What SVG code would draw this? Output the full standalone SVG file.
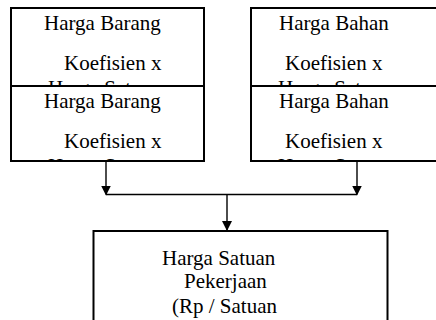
<svg xmlns="http://www.w3.org/2000/svg" width="436" height="320" viewBox="0 0 436 320">
  <style>
    .box { fill: #fff; stroke: #000; stroke-width: 2; }
    .t { font-family: "Liberation Serif", "Times New Roman", serif; font-size: 21px; fill: #000; }
    .conn { stroke: #000; stroke-width: 1.4; fill: none; }
  </style>
  <defs>
    <marker id="arrow" markerUnits="userSpaceOnUse" markerWidth="10" markerHeight="11" refX="9" refY="5" orient="auto">
      <path d="M0,0 L10,5 L0,10 Z" fill="#000"/>
    </marker>
    <clipPath id="c1"><rect x="11" y="8" width="193" height="78"/></clipPath>
    <clipPath id="c2"><rect x="251" y="8" width="193" height="78"/></clipPath>
    <clipPath id="c3"><rect x="11" y="86" width="193" height="75"/></clipPath>
    <clipPath id="c4"><rect x="251" y="86" width="193" height="75"/></clipPath>
  </defs>

  <g id="barang1">
    <rect class="box" x="11" y="8" width="193" height="78"/>
    <g clip-path="url(#c1)">
      <text class="t" x="44" y="29.5">Harga Barang</text>
      <text class="t" x="64" y="70">Koefisien x</text>
      <text class="t" x="48" y="94.5">Harga Satuan</text>
    </g>
  </g>

  <g id="bahan1">
    <rect class="box" x="251" y="8" width="193" height="78"/>
    <g clip-path="url(#c2)">
      <text class="t" x="279" y="29.5">Harga Bahan</text>
      <text class="t" x="285" y="70">Koefisien x</text>
      <text class="t" x="278" y="94.5">Harga Satuan</text>
    </g>
  </g>

  <g id="barang2">
    <rect class="box" x="11" y="86" width="193" height="75"/>
    <g clip-path="url(#c3)">
      <text class="t" x="44" y="108">Harga Barang</text>
      <text class="t" x="64" y="148">Koefisien x</text>
      <text class="t" x="48" y="172.5">Harga Satuan</text>
    </g>
  </g>

  <g id="bahan2">
    <rect class="box" x="251" y="86" width="193" height="75"/>
    <g clip-path="url(#c4)">
      <text class="t" x="279" y="108">Harga Bahan</text>
      <text class="t" x="285" y="148">Koefisien x</text>
      <text class="t" x="278" y="172.5">Harga Satuan</text>
    </g>
  </g>

  <g id="hasil">
    <rect class="box" x="93.5" y="231" width="294" height="100"/>
    <text class="t" x="162" y="265">Harga Satuan</text>
    <text class="t" x="184" y="288">Pekerjaan</text>
    <text class="t" x="172" y="312.5">(Rp / Satuan</text>
  </g>

  <g id="connectors">
    <line class="conn" x1="106" y1="162" x2="106" y2="194.5" marker-end="url(#arrow)"/>
    <line class="conn" x1="357" y1="162" x2="357" y2="194.5" marker-end="url(#arrow)"/>
    <line class="conn" x1="106" y1="194.5" x2="357" y2="194.5"/>
    <line class="conn" x1="227" y1="194.5" x2="227" y2="230" marker-end="url(#arrow)"/>
  </g>
</svg>
